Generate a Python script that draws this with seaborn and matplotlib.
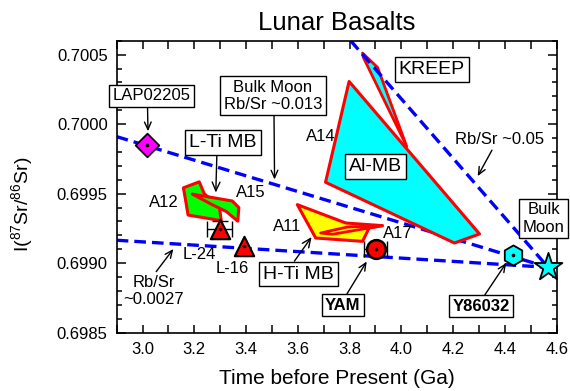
import numpy as np
import pandas as pd
import matplotlib
matplotlib.use("Agg")
import matplotlib.pyplot as plt
from matplotlib.ticker import MultipleLocator, FormatStrFormatter
import seaborn as sns

# ---------------- data ----------------
# model evolution lines (age in Ga, initial 87Sr/86Sr)
line_bulk_age = [2.90, 4.567]
line_bulk_sr = [0.69991, 0.69897]
line_low_age = [2.90, 4.567]
line_low_sr = [0.699165, 0.69897]
line_high_age = [3.804, 4.567]
line_high_sr = [0.70060, 0.69897]

# field outlines (age, ratio)
kreep_age = [3.850, 3.908, 4.021, 3.853]
kreep_sr = [0.700511, 0.700408, 0.699838, 0.700480]
almb_age = [3.798, 3.707, 4.205, 4.302]
almb_sr = [0.700307, 0.699582, 0.699145, 0.699210]
a12_age = [3.158, 3.219, 3.238, 3.297, 3.304, 3.176]
a12_sr = [0.699542, 0.699585, 0.699501, 0.699400, 0.699306, 0.699346]
a15_age = [3.192, 3.347, 3.372, 3.368, 3.324, 3.269]
a15_sr = [0.699497, 0.699447, 0.699400, 0.699302, 0.699371, 0.699421]
a11_age = [3.598, 3.785, 3.927, 3.875, 3.850, 3.669]
a11_sr = [0.699421, 0.699289, 0.699270, 0.699253, 0.699157, 0.699181]
a11b_age = [3.688, 3.791, 3.927, 3.734]
a11b_sr = [0.699217, 0.699260, 0.699270, 0.699208]

# individual samples
lap_age, lap_sr = 3.016, 0.699847
l24_age, l24_sr, l24_xerr, l24_yerr = 3.298, 0.699246, 0.048, 0.000058
l16_age, l16_sr = 3.391, 0.699120
yam_age, yam_sr, yam_xerr = 3.901, 0.699102, 0.045
y86_age, y86_sr = 4.433, 0.699061
bulk_age, bulk_sr = 4.567, 0.698975

x_ticks = [3.0, 3.2, 3.4, 3.6, 3.8, 4.0, 4.2, 4.4, 4.6]

# ---------------- style ----------------
sns.set_theme(style="ticks")
plt.rcParams["font.family"] = ["Liberation Sans", "DejaVu Sans"]
plt.rcParams["mathtext.fontset"] = "custom"
plt.rcParams["mathtext.rm"] = "Liberation Sans"
plt.rcParams["mathtext.it"] = "Liberation Sans:italic"
plt.rcParams["mathtext.bf"] = "Liberation Sans:bold"
for k in ["text.color", "axes.labelcolor", "xtick.color", "ytick.color",
          "axes.edgecolor"]:
    plt.rcParams[k] = "black"

fig = plt.figure(figsize=(5.7, 3.91), dpi=100)
ax = fig.add_axes([0.2047, 0.1491, 0.7719, 0.7468])

# dashed model lines
dash = (0, (3.5, 1.8))
for a, s in [(line_bulk_age, line_bulk_sr), (line_low_age, line_low_sr),
             (line_high_age, line_high_sr)]:
    sns.lineplot(x=a, y=s, ax=ax, color="#0000ff", linewidth=2.4,
                 linestyle=dash, zorder=2, sort=False, estimator=None)

# fields
ax.fill(kreep_age, kreep_sr, facecolor="#00ffff", edgecolor="#ff0000", lw=2.0, zorder=1.5, joinstyle="round")
ax.fill(almb_age, almb_sr, facecolor="#00ffff", edgecolor="#ff0000", lw=2.2, zorder=3, joinstyle="round")
ax.fill(a12_age, a12_sr, facecolor="#00ff00", edgecolor="#ff0000", lw=2.2, zorder=3, joinstyle="round")
ax.fill(a15_age, a15_sr, facecolor="#00ff00", edgecolor="#ff0000", lw=2.2, zorder=3, joinstyle="round")
ax.fill(a11_age, a11_sr, facecolor="#ffff00", edgecolor="#ff0000", lw=2.2, zorder=3, joinstyle="round")
ax.fill(a11b_age, a11b_sr, facecolor="#ffff00", edgecolor="#ff0000", lw=2.0, zorder=3, joinstyle="round")

# error bars
ax.errorbar(l24_age, l24_sr, xerr=l24_xerr, yerr=l24_yerr, fmt="none",
            ecolor="black", elinewidth=1.0, capsize=6, capthick=1.0, zorder=4)
ax.errorbar(yam_age, yam_sr, xerr=yam_xerr, fmt="none",
            ecolor="black", elinewidth=1.0, capsize=6, capthick=1.0, zorder=4)

# markers
sns.scatterplot(x=[lap_age], y=[lap_sr], marker="D", s=12**2, color="#ff00ff",
                edgecolor="black", linewidth=1.3, ax=ax, zorder=5)
sns.scatterplot(x=[l24_age, l16_age], y=[l24_sr, l16_sr], marker="^", s=14**2,
                color="#ff0000", edgecolor="black", linewidth=1.5, ax=ax, zorder=5)
sns.scatterplot(x=[yam_age], y=[yam_sr], marker="o", s=13.5**2, color="#ff0000",
                edgecolor="black", linewidth=1.8, ax=ax, zorder=5)
sns.scatterplot(x=[y86_age], y=[y86_sr], marker="h", s=14.5**2, color="#00ffff",
                edgecolor="black", linewidth=1.3, ax=ax, zorder=5)
sns.scatterplot(x=[bulk_age], y=[bulk_sr], marker="*", s=21**2, color="#00ffff",
                edgecolor="black", linewidth=1.3, ax=ax, zorder=5, clip_on=False)
ax.plot([lap_age, l24_age, l16_age, yam_age, y86_age],
        [lap_sr, l24_sr, l16_sr, yam_sr, y86_sr], linestyle="none",
        marker="o", ms=1.6, color="black", zorder=6)

# ---------------- annotations ----------------
box = dict(boxstyle="square,pad=0.2", facecolor="white", edgecolor="black", lw=1.0)
arr = dict(arrowstyle="->,head_length=0.45,head_width=0.2", color="black", lw=1.0,
           shrinkA=0, shrinkB=0)

def ann(text, xy_text, tip=None, relpos=(0.5, 0.5), boxed=True, fs=12, weight="normal"):
    kw = dict(fontsize=fs, ha="center", va="center", fontweight=weight,
              annotation_clip=False, zorder=7, color="black")
    if boxed:
        kw["bbox"] = box
    if tip is not None:
        a = dict(arr)
        a["relpos"] = relpos
        ax.annotate(text, xy=tip, xytext=xy_text, arrowprops=a, **kw)
    else:
        ax.annotate(text, xy=xy_text, xytext=xy_text, **kw)

ann("LAP02205", (3.034, 0.700203), tip=(3.021, 0.699949), relpos=(0.45, 0))
ann("Bulk Moon\nRb/Sr ~0.013", (3.504, 0.700203), tip=(3.510, 0.699602), relpos=(0.51, 0))
ann("L-Ti MB", (3.311, 0.699867), tip=(3.283, 0.699508), relpos=(0.41, 0), fs=14)
ann("KREEP", (4.117, 0.700395), fs=14)
ann("Al-MB", (3.900, 0.699696), fs=14)
ann("Rb/Sr ~0.05", (4.381, 0.699890), tip=(4.295, 0.699626), relpos=(0.43, 0), boxed=False)
ann("Bulk\nMoon", (4.550, 0.699320))
ann("H-Ti MB", (3.602, 0.698922), tip=(3.653, 0.699188), relpos=(0.40, 1), fs=14)
ann("YAM", (3.774, 0.698698), tip=(3.866, 0.699012), relpos=(0.55, 1), weight="bold")
ann("Y86032", (4.308, 0.698690), tip=(4.405, 0.699001), relpos=(0.52, 1), weight="bold")
ann("Rb/Sr\n~0.0027", (3.043, 0.698799), tip=(3.119, 0.699102), relpos=(0.5, 1), boxed=False)

for t, (x, y) in {"A12": (3.081, 0.699434), "A15": (3.419, 0.699506),
                  "A14": (3.687, 0.699910), "A11": (3.557, 0.699265),
                  "A17": (3.986, 0.699217), "L-24": (3.220, 0.699061),
                  "L-16": (3.346, 0.698965)}.items():
    ax.text(x, y, t, fontsize=12, ha="center", va="center", zorder=7, color="black")

# ---------------- axes ----------------
ax.set_xlim(2.9, 4.6)
ax.set_ylim(0.6985, 0.7006)
ax.set_xticks(x_ticks)
ax.xaxis.set_minor_locator(MultipleLocator(0.1))
ax.xaxis.set_major_formatter(FormatStrFormatter("%.1f"))
ax.yaxis.set_major_locator(MultipleLocator(0.0005))
ax.yaxis.set_minor_locator(MultipleLocator(0.0001))
ax.yaxis.set_major_formatter(FormatStrFormatter("%.4f"))
ax.tick_params(which="both", direction="in", top=True, right=True,
               width=1.1, color="black", labelsize=12, labelcolor="black")
ax.tick_params(axis="x", which="both", length=5.5, pad=7)
ax.tick_params(axis="y", which="major", length=6.5, pad=6.5)
ax.tick_params(axis="y", which="minor", length=3.5)
for sp in ax.spines.values():
    sp.set_linewidth(1.2)
    sp.set_color("black")

ax.set_title("Lunar Basalts", fontsize=18.5, pad=8, color="black")
ax.set_xlabel("Time before Present (Ga)", fontsize=15, labelpad=8, color="black")
ax.set_ylabel(r"I($^{87}$Sr/$^{86}$Sr)", fontsize=14, color="black")
ax.yaxis.set_label_coords(-0.186, 0.44)

fig.savefig("out.png", dpi=100)
